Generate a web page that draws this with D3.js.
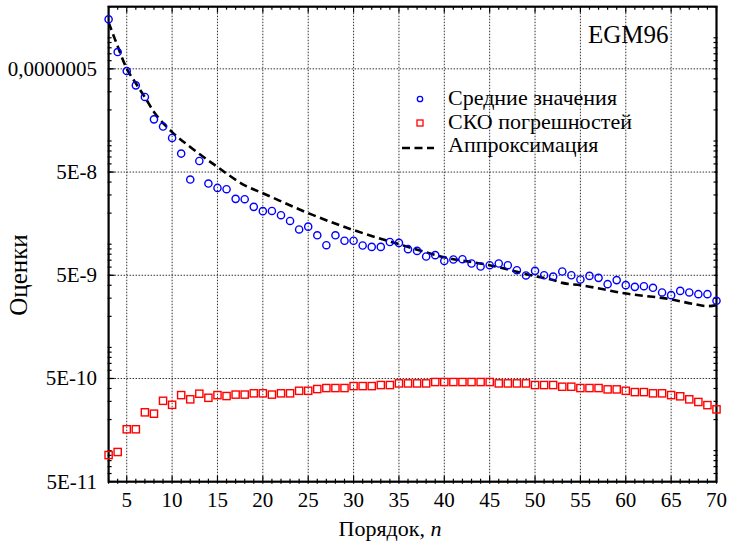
<!DOCTYPE html>
<html>
<head>
<meta charset="utf-8">
<script src="https://cdn.jsdelivr.net/npm/d3@7"></script>
<style>
  html, body { margin: 0; padding: 0; background: #fff; }
  svg { display: block; font-family: "Liberation Serif", "DejaVu Serif", serif; }
</style>
</head>
<body>
<svg id="chart" width="731" height="541"></svg>
<script>
// Порядок n
const orders = d3.range(3, 71);

// Средние значения (blue circles), n = 3..70
const meanValues = [
  1.51e-6, 7.27e-7, 4.76e-7, 3.46e-7, 2.67e-7, 1.62e-7, 1.38e-7, 1.07e-7,
  7.55e-8, 4.23e-8, 6.40e-8, 3.87e-8, 3.51e-8, 3.41e-8, 2.75e-8, 2.73e-8,
  2.30e-8, 2.09e-8, 2.10e-8, 1.91e-8, 1.68e-8, 1.39e-8, 1.48e-8, 1.22e-8,
  9.78e-9, 1.22e-8, 1.08e-8, 1.08e-8, 9.71e-9, 9.42e-9, 9.42e-9, 1.05e-8,
  1.03e-8, 8.95e-9, 8.61e-9, 7.60e-9, 7.83e-9, 6.89e-9, 7.11e-9, 7.16e-9,
  6.50e-9, 6.08e-9, 6.26e-9, 6.50e-9, 6.26e-9, 5.60e-9, 4.98e-9, 5.52e-9,
  5.00e-9, 4.86e-9, 5.44e-9, 5.00e-9, 4.55e-9, 4.93e-9, 4.72e-9, 4.10e-9,
  4.49e-9, 4.01e-9, 3.86e-9, 3.92e-9, 3.78e-9, 3.41e-9, 3.21e-9, 3.53e-9,
  3.41e-9, 3.28e-9, 3.28e-9, 2.83e-9
];

// СКО погрешностей (red squares), n = 3..70
const errorValues = [
  9.06e-11, 9.70e-11, 1.61e-10, 1.61e-10, 2.35e-10, 2.28e-10, 3.04e-10, 2.78e-10,
  3.45e-10, 3.14e-10, 3.56e-10, 3.25e-10, 3.45e-10, 3.38e-10, 3.49e-10, 3.49e-10,
  3.59e-10, 3.59e-10, 3.49e-10, 3.59e-10, 3.59e-10, 3.80e-10, 3.80e-10, 3.95e-10,
  4.04e-10, 4.04e-10, 4.04e-10, 4.22e-10, 4.22e-10, 4.22e-10, 4.32e-10, 4.32e-10,
  4.48e-10, 4.48e-10, 4.48e-10, 4.48e-10, 4.62e-10, 4.62e-10, 4.62e-10, 4.62e-10,
  4.62e-10, 4.62e-10, 4.62e-10, 4.48e-10, 4.48e-10, 4.48e-10, 4.48e-10, 4.32e-10,
  4.32e-10, 4.32e-10, 4.16e-10, 4.16e-10, 4.04e-10, 4.04e-10, 4.04e-10, 3.92e-10,
  3.92e-10, 3.80e-10, 3.69e-10, 3.69e-10, 3.59e-10, 3.59e-10, 3.45e-10, 3.36e-10,
  3.14e-10, 2.96e-10, 2.76e-10, 2.51e-10
];

// Аппроксимация (dashed curve), read at selected orders
const approxOrders = [3, 4, 5, 6, 7, 8, 10, 12, 15, 18, 20, 25, 30, 35, 40, 45, 50, 52, 53, 55, 60, 65, 67.5, 69, 70];
const approxValues = [
  1.41e-6, 8.26e-7, 5.02e-7, 3.62e-7, 2.65e-7, 1.91e-7, 1.22e-7, 8.75e-8,
  5.60e-8, 3.72e-8, 3.12e-8, 2.00e-8, 1.37e-8, 1.00e-8, 7.48e-9, 6.26e-9,
  4.90e-9, 4.50e-9, 4.22e-9, 4.01e-9, 3.33e-9, 2.92e-9, 2.63e-9, 2.51e-9, 2.57e-9
];

const xTicks = d3.range(5, 71, 5);
const yTicks = [5e-11, 5e-10, 5e-9, 5e-8, 5e-7];
const yTickLabels = ["5E-11", "5E-10", "5E-9", "5E-8", "0,0000005"];

const legendLabels = ["Средние значения", "СКО погрешностей", "Аппроксимация"];

// Plot geometry
const pLeft = 108.6, pRight = 716.5, pTop = 6.7, pBottom = 481.7;

const svg = d3.select("#chart");

const x = d3.scaleLinear().domain([3, 70]).range([pLeft, pRight]);
const y = d3.scaleLog().domain([5e-11, 2e-6]).range([pBottom, pTop]);

// grid
const grid = svg.append("g").attr("stroke", "#333").attr("stroke-width", 1).attr("stroke-dasharray", "1.5,1.5");
grid.selectAll("line.gx").data(xTicks.filter(d => d < 70)).enter().append("line")
  .attr("x1", d => x(d)).attr("x2", d => x(d)).attr("y1", pTop).attr("y2", pBottom);
grid.selectAll("line.gy").data(yTicks.slice(1)).enter().append("line")
  .attr("x1", pLeft).attr("x2", pRight).attr("y1", d => y(d)).attr("y2", d => y(d));

// minor ticks
const minorX = d3.range(3, 71);
const minorY = [];
for (let e = -11; e <= -6; e++) for (let k = 1; k <= 9; k++) {
  const v = k * Math.pow(10, e);
  if (v >= 5e-11 && v <= 2e-6) minorY.push(v);
}
const ticks = svg.append("g").attr("stroke", "#000").attr("stroke-width", 1.2);
ticks.selectAll("line.bx").data(minorX).enter().append("line")
  .attr("x1", d => x(d)).attr("x2", d => x(d))
  .attr("y1", pBottom + 2).attr("y2", d => pBottom - (d % 5 === 0 ? 6 : 3));
ticks.selectAll("line.tx").data(minorX).enter().append("line")
  .attr("x1", d => x(d)).attr("x2", d => x(d))
  .attr("y1", pTop).attr("y2", d => pTop + (d % 5 === 0 ? 6 : 3));
ticks.selectAll("line.ly").data(minorY).enter().append("line")
  .attr("x1", pLeft - 1).attr("x2", pLeft + 3).attr("y1", d => y(d)).attr("y2", d => y(d));
ticks.selectAll("line.ry").data(minorY).enter().append("line")
  .attr("x1", pRight - 3).attr("x2", pRight + 1).attr("y1", d => y(d)).attr("y2", d => y(d));
ticks.selectAll("line.my").data(yTicks).enter().append("line")
  .attr("x1", pLeft).attr("x2", pLeft + 6).attr("y1", d => y(d)).attr("y2", d => y(d));

// frame
svg.append("rect").attr("x", pLeft).attr("y", pTop)
  .attr("width", pRight - pLeft).attr("height", pBottom - pTop)
  .attr("fill", "none").attr("stroke", "#000").attr("stroke-width", 2.2);

// tick labels
svg.append("g").selectAll("text").data(xTicks).enter().append("text")
  .attr("x", d => x(d)).attr("y", 507)
  .attr("text-anchor", "middle").attr("font-size", 21)
  .text(d => d);
svg.append("g").selectAll("text").data(yTicks).enter().append("text")
  .attr("x", 97).attr("y", d => y(d) + 7)
  .attr("text-anchor", "end").attr("font-size", 21)
  .text((d, i) => yTickLabels[i]);

// axis titles
const xt = svg.append("text").attr("x", 390).attr("y", 536)
  .attr("text-anchor", "middle").attr("font-size", 22);
xt.append("tspan").text("Порядок, ");
xt.append("tspan").attr("font-style", "italic").text("n");
svg.append("text").attr("transform", "translate(27,275) rotate(-90)")
  .attr("text-anchor", "middle").attr("font-size", 25).text("Оценки");

// approximation
const line = d3.line().x(d => x(d[0])).y(d => y(d[1])).curve(d3.curveMonotoneX);
svg.append("path").datum(approxOrders.map((n, i) => [n, approxValues[i]]))
  .attr("d", line).attr("fill", "none").attr("stroke", "#000")
  .attr("stroke-width", 2.6).attr("stroke-dasharray", "8,4.5");

// mean values
svg.append("g").selectAll("circle").data(orders).enter().append("circle")
  .attr("cx", d => x(d)).attr("cy", (d, i) => y(meanValues[i])).attr("r", 3.6)
  .attr("fill", "none").attr("stroke", "#0000ff").attr("stroke-width", 1.4);

// error values
svg.append("g").selectAll("rect").data(orders).enter().append("rect")
  .attr("x", d => x(d) - 3.6).attr("y", (d, i) => y(errorValues[i]) - 3.6)
  .attr("width", 7.2).attr("height", 7.2)
  .attr("fill", "none").attr("stroke", "#ff0000").attr("stroke-width", 1.4);

// label
svg.append("text").attr("x", 588).attr("y", 43).attr("font-size", 25).text("EGM96");

// legend
const lg = svg.append("g");
lg.append("circle").attr("cx", 420).attr("cy", 99).attr("r", 2.7)
  .attr("fill", "none").attr("stroke", "#0000ff").attr("stroke-width", 1.3);
lg.append("rect").attr("x", 417).attr("y", 120).attr("width", 6).attr("height", 6)
  .attr("fill", "none").attr("stroke", "#ff0000").attr("stroke-width", 1.3);
lg.append("line").attr("x1", 402).attr("x2", 434).attr("y1", 148).attr("y2", 148)
  .attr("stroke", "#000").attr("stroke-width", 2.6).attr("stroke-dasharray", "8,4.5");
lg.selectAll("text").data(legendLabels).enter().append("text")
  .attr("x", 448).attr("y", (d, i) => 105 + i * 23.5)
  .attr("font-size", 22).text(d => d);
</script>
</body>
</html>
